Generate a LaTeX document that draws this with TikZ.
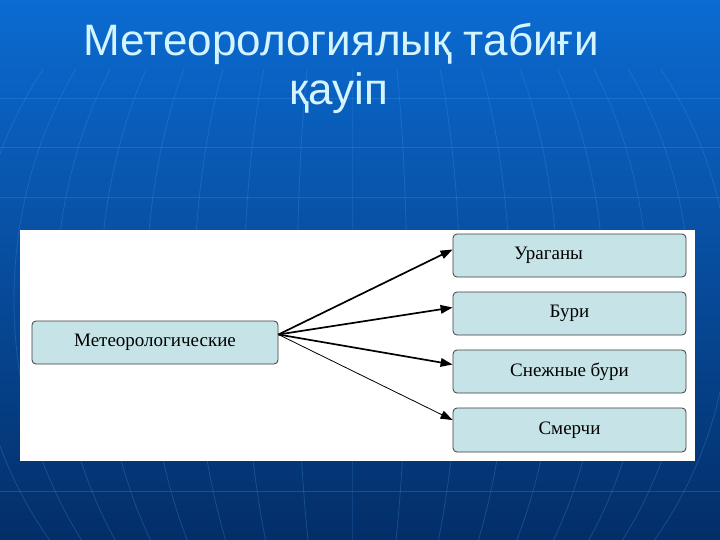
\documentclass[tikz,border=0pt]{standalone}
\usepackage{fontspec}
\setmainfont{Liberation Serif}
\newfontfamily\titlefont{Liberation Sans}
\usetikzlibrary{arrows.meta}
\definecolor{skytop}{RGB}{11,107,210}
\definecolor{skymid}{RGB}{6,86,182}
\definecolor{skybot}{RGB}{3,46,104}
\definecolor{gridline}{RGB}{70,150,235}
\definecolor{titlecol}{RGB}{212,244,255}
\definecolor{boxfill}{RGB}{198,228,231}
\definecolor{boxline}{RGB}{60,60,60}

\tikzset{
    hazard/.style={draw=boxline, fill=boxfill, rounded corners=4pt, line width=0.8pt,
        minimum width=233pt, minimum height=43pt, inner sep=0pt,
        font=\fontsize{19}{22}\selectfont},
    link/.style={line width=1.7pt, -{Triangle[length=12pt,width=8.5pt]}},
    meridian/.style={gridline, opacity=0.28, line width=0.8pt},
}

\begin{document}
\begin{tikzpicture}[x=1pt, y=-1pt]
    % Slide background with the faint globe grid.
    \useasboundingbox (0,0) rectangle (720,540);
    \shade[top color=skytop, middle color=skymid, bottom color=skybot] (0,0) rectangle (720,540);
    \begin{scope}
        \clip (0,70) rectangle (720,540);
        \foreach \y in {98,147,197,491}
            \draw[meridian] (0,\y) -- (720,\y);
        \foreach \a in {0,55,108,158,206,252,296,338,378}
            \draw[meridian] (352,300) ellipse [x radius=\a, y radius=400];
    \end{scope}

    % Title, two lines.
    \node[titlecol, font=\titlefont\fontsize{44}{50}\selectfont, anchor=base] (title) at (341,56) {Метеорологиялық табиғи};
    \node[titlecol, font=\titlefont\fontsize{44}{50}\selectfont, anchor=base] (subtitle) at (339,105) {қауіп};

    % White panel holding the chart.
    \fill[white] (20,230) rectangle (695,461);

    % Source box and the four kinds of hazard.
    \node[hazard, minimum width=246pt] (meteo) at (155,342.5) {Метеорологические};
    \node[hazard] (hurricane) at (569.5,255.5) {Ураганы\hspace*{42pt}};
    \node[hazard] (storm) at (569.5,313.5) {Бури};
    \node[hazard] (snowstorm) at (569.5,371.5) {Снежные бури};
    \node[hazard, minimum height=44pt] (tornado) at (569.5,430) {Смерчи};

    % Arrows fan out from one point.
    \coordinate (hub) at ([yshift=8pt]meteo.east);
    \draw[link] (hub) -- ([yshift=6pt]hurricane.west);
    \draw[link] (hub) -- ([yshift=6pt]storm.west);
    \draw[link] (hub) -- ([yshift=7pt]snowstorm.west);
    \draw[link, line width=0.8pt] (hub) -- ([yshift=10pt]tornado.west);
\end{tikzpicture}
\end{document}
